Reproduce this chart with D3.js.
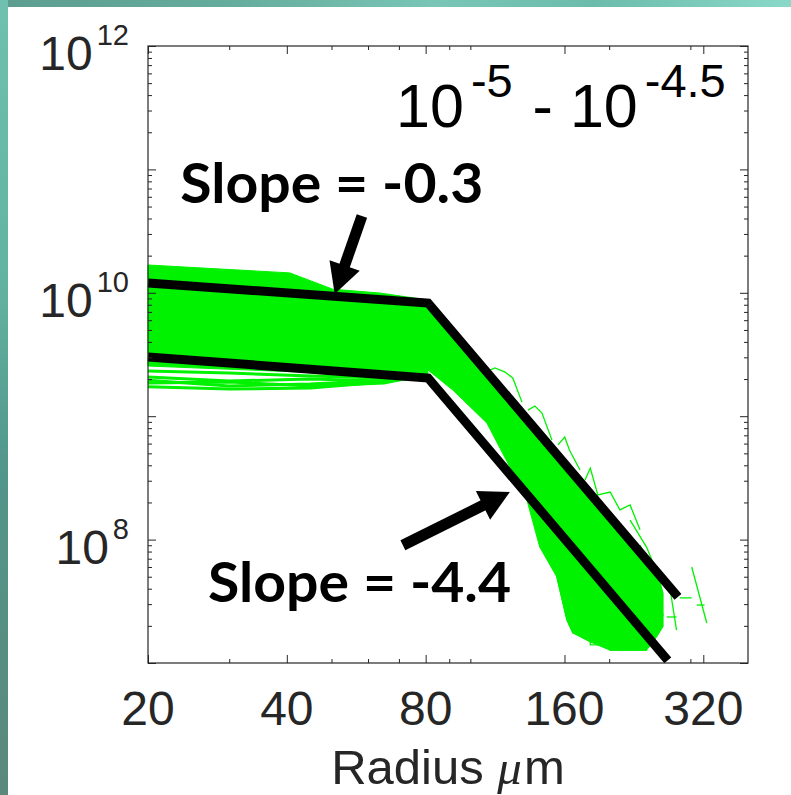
<!DOCTYPE html>
<html lang="en">
<head>
    <meta charset="UTF-8">
    <title>Radius spectrum</title>
    <script src="https://d3js.org/d3.v7.min.js"></script>
    <style>
        body { margin: 0; background: #fff; }
        svg { display: block; }
        .tick-label { font-family: "Liberation Sans", Arial, sans-serif; fill: #262626; }
        .callout { font-family: Lato, "Open Sans", sans-serif; font-weight: 700; fill: #000; }
    </style>
</head>
<body>
<div id="chart"></div>
<script>
    // axis ticks
    const xTicks = [20, 40, 80, 160, 320];
    const yLabelValues = [1e8, 1e10, 1e12];
    const yLabelExps = ["8", "10", "12"];

    // green bundle: outer envelope of the many runs (radius um, value)
    const bandTop = [[20, 1.68e10], [40.6, 1.45e10], [50.3, 1.07e10], [63.7, 9.95e9], [80.9, 8.75e9],
        [99.7, 3.31e9], [123.6, 1.28e9], [141.4, 7.04e8], [160.2, 4.1e8], [179.8, 2.48e8],
        [201, 1.52e8], [222, 9.75e7], [241, 6.71e7], [253.6, 5.46e7],
        [261.4, 3.7e7], [261.4, 1.96e7], [253.6, 1.63e7]];
    const bandBottom = [[20, 2.55e9], [42.7, 2.28e9], [70.3, 1.96e9], [80.9, 2.37e9], [91.6, 1.63e9],
        [108.6, 8.8e8], [121.8, 3.87e8], [132.6, 2.1e8], [141.4, 8.7e7], [154, 4.98e7],
        [161.9, 2.23e7], [166.8, 1.75e7], [182, 1.48e7], [201, 1.27e7], [222, 1.27e7],
        [241, 1.27e7], [253.6, 1.63e7]];

    // single runs leaving the bundle below the shallow part
    const streakRadii = [20, 30, 45, 65, 81];
    const streaks = [
        [2.32e9, 2.24e9, 2.12e9, 2.04e9, 2.28e9],
        [2.08e9, 1.93e9, 2.0e9, 1.93e9, 2.24e9],
        [1.86e9, 1.89e9, 1.76e9, 1.86e9, 2.2e9],
        [1.73e9, 1.66e9, 1.69e9, 1.89e9, 2.16e9],
        [1.96e9, 1.76e9, 1.82e9, 1.96e9, 2.32e9]
    ];
    // single runs above the steep fit and in the tail
    const fringeRuns = [
        [[107.6, 2.28e9], [113.1, 2.46e9], [118.9, 2.28e9], [123.6, 2.04e9], [129.4, 1.3e9]],
        [[133.3, 1.12e9], [138, 1.21e9], [143, 1.06e9], [150.3, 6.4e8]],
        [[154.9, 5.85e8], [160.2, 6.78e8], [164, 5.32e8], [172.9, 3.66e8]],
        [[177.3, 3.04e8], [182, 3.8e8], [189, 2.3e8], [201, 2.43e8], [211, 1.74e8], [222, 1.91e8], [233.3, 1.2e8]],
        [[222, 1.44e8], [241, 8.7e7], [247.6, 6.84e7], [253.6, 5.68e7], [261.4, 3.69e7], [261.4, 1.96e7]],
        [[233.3, 9.04e7], [245.2, 5.17e7], [257, 5.36e7], [251.4, 2.95e7]],
        [[154, 4.98e7], [162, 2.23e7], [167, 1.75e7], [182, 1.75e7], [182, 1.4e7], [201, 1.4e7],
         [201, 1.27e7], [241, 1.27e7], [241, 1.5e7], [254, 1.75e7], [262, 2.5e7]],
        [[302, 6.0e7], [325.6, 2.11e7]],
        [[309.6, 2.95e7], [322, 2.95e7]],
        [[270.6, 4.13e7], [280, 1.85e7]],
        [[284.5, 3.37e7], [302, 3.37e7]],
        [[266.6, 2.36e7], [280, 2.36e7]]
    ];

    // broken power-law fits
    const upperFit = [[20, 1.2e10], [81, 8.26e9], [282, 3.43e7]];
    const lowerFit = [[20, 3.02e9], [81, 2.04e9], [268, 1.05e7]];

    // annotations
    const calloutText = ["Slope = -0.3", "Slope = -4.4"];
    const calloutPos = [[23.5, 5.35e10], [27, 3.12e7]];
    const arrowTails = [[58.2, 4.19e10], [71.4, 9.0e7]];
    const arrowTips = [[50.8, 9.8e9], [121.8, 2.43e8]];
    const rangeLabelPos = [69, 2.21e11];

    const width = 791, height = 795;
    const margin = {left: 148, right: 43, top: 46, bottom: 132};
    const green = "#00f200";
    const axisColor = "#262626";

    const x = d3.scaleLog().domain([20, 400]).range([margin.left, width - margin.right]);
    const y = d3.scaleLog().domain([1e7, 1e12]).range([height - margin.bottom, margin.top]);

    const svg = d3.select("#chart").append("svg")
        .attr("width", width)
        .attr("height", height);

    // slide background strips
    const defs = svg.append("defs");
    const topGrad = defs.append("linearGradient").attr("id", "top-strip");
    [["0%", "#5c9d8f"], ["30%", "#66ad9d"], ["55%", "#79c6b6"], ["75%", "#6cbcab"], ["100%", "#8ad8c7"]]
        .forEach(s => topGrad.append("stop").attr("offset", s[0]).attr("stop-color", s[1]));
    const leftGrad = defs.append("linearGradient").attr("id", "left-strip")
        .attr("x1", 0).attr("y1", 0).attr("x2", 0).attr("y2", 1);
    [["0%", "#70c0b0"], ["35%", "#63b3a2"], ["60%", "#52958a"], ["100%", "#5b887c"]]
        .forEach(s => leftGrad.append("stop").attr("offset", s[0]).attr("stop-color", s[1]));

    svg.append("rect").attr("width", width).attr("height", height).attr("fill", "#fff");
    svg.append("rect").attr("width", width).attr("height", 7).attr("fill", "url(#top-strip)");
    svg.append("rect").attr("width", 8).attr("height", height).attr("fill", "url(#left-strip)");

    const line = d3.line().x(d => x(d[0])).y(d => y(d[1]));

    // bundle of runs
    svg.append("path")
        .attr("d", line(bandTop.concat(bandBottom.slice().reverse())) + "Z")
        .attr("fill", green)
        .attr("stroke", green)
        .attr("stroke-width", 1);

    svg.append("g")
        .selectAll("path")
        .data(streaks.map(s => s.map((v, i) => [streakRadii[i], v])))
        .join("path")
        .attr("d", line)
        .attr("fill", "none")
        .attr("stroke", green)
        .attr("stroke-width", 3);

    svg.append("g")
        .selectAll("path")
        .data(fringeRuns)
        .join("path")
        .attr("d", line)
        .attr("fill", "none")
        .attr("stroke", green)
        .attr("stroke-width", 1.3);

    // fits
    svg.append("g")
        .selectAll("path")
        .data([upperFit, lowerFit])
        .join("path")
        .attr("d", line)
        .attr("fill", "none")
        .attr("stroke", "#000")
        .attr("stroke-width", 9)
        .attr("stroke-linejoin", "miter");

    // frame and ticks (all pointing inward)
    const isDecade = v => Math.abs(Math.log10(v) - Math.round(Math.log10(v))) < 1e-6;
    const xMinor = x.ticks().filter(v => !xTicks.includes(v) && v > 20 && v < 400);
    const yMajor = y.ticks().filter(isDecade);
    const yMinor = y.ticks().filter(v => !isDecade(v));
    const bottomY = height - margin.bottom, rightX = width - margin.right;

    function ticks(axisFn, scale, values, size, transform) {
        svg.append("g")
            .attr("transform", transform)
            .call(axisFn(scale).tickValues(values).tickSize(size).tickSizeOuter(0).tickFormat(""))
            .call(g => g.select(".domain").remove())
            .selectAll("line")
            .attr("stroke", axisColor);
    }
    ticks(d3.axisBottom, x, xTicks, -8, `translate(0,${bottomY})`);
    ticks(d3.axisBottom, x, xMinor, -4, `translate(0,${bottomY})`);
    ticks(d3.axisTop, x, xTicks, -8, `translate(0,${margin.top})`);
    ticks(d3.axisTop, x, xMinor, -4, `translate(0,${margin.top})`);
    ticks(d3.axisLeft, y, yMajor, -8, `translate(${margin.left},0)`);
    ticks(d3.axisLeft, y, yMinor, -4, `translate(${margin.left},0)`);
    ticks(d3.axisRight, y, yMajor, -8, `translate(${rightX},0)`);
    ticks(d3.axisRight, y, yMinor, -4, `translate(${rightX},0)`);

    svg.append("rect")
        .attr("x", margin.left).attr("y", margin.top)
        .attr("width", rightX - margin.left).attr("height", bottomY - margin.top)
        .attr("fill", "none")
        .attr("stroke", axisColor)
        .attr("stroke-width", 1.2);

    // tick labels
    svg.append("g")
        .selectAll("text")
        .data(xTicks)
        .join("text")
        .attr("class", "tick-label")
        .attr("x", d => x(d))
        .attr("y", bottomY + 62)
        .attr("text-anchor", "middle")
        .attr("font-size", 48)
        .text(d => d);

    yLabelValues.forEach((v, i) => {
        const t = svg.append("text")
            .attr("class", "tick-label")
            .attr("x", margin.left - 19)
            .attr("y", y(v) + 24)
            .attr("text-anchor", "end")
            .attr("font-size", 48);
        t.append("tspan").text("10");
        t.append("tspan").attr("dx", 4).attr("dy", -25).attr("font-size", 29).text(yLabelExps[i]);
    });

    // x axis title
    const xTitle = svg.append("text")
        .attr("class", "tick-label")
        .attr("x", (margin.left + rightX) / 2)
        .attr("y", 784)
        .attr("text-anchor", "middle")
        .attr("font-size", 49);
    xTitle.append("tspan").text("Radius ");
    xTitle.append("tspan").attr("font-family", "Liberation Serif, serif").attr("font-style", "italic").text("\u03bc");
    xTitle.append("tspan").attr("dx", 2).text("m");

    // range label in the corner
    const rangeLabel = svg.append("text")
        .attr("class", "tick-label")
        .style("fill", "#000")
        .attr("x", x(rangeLabelPos[0]))
        .attr("y", y(rangeLabelPos[1]))
        .attr("font-size", 61);
    rangeLabel.append("tspan").text("10");
    rangeLabel.append("tspan").attr("dx", 7).attr("dy", -30).attr("font-size", 47).text("-5");
    rangeLabel.append("tspan").attr("dx", 3).attr("dy", 30).text(" - 10");
    rangeLabel.append("tspan").attr("dx", 7).attr("dy", -30).attr("font-size", 47).text("-4.5");

    // slope callouts with arrows
    svg.append("g")
        .selectAll("text")
        .data(calloutText)
        .join("text")
        .attr("class", "callout")
        .attr("x", (d, i) => x(calloutPos[i][0]))
        .attr("y", (d, i) => y(calloutPos[i][1]))
        .attr("font-size", 56)
        .attr("textLength", 303)
        .attr("lengthAdjust", "spacingAndGlyphs")
        .text(d => d);

    arrowTails.forEach((tail, i) => {
        const x0 = x(tail[0]), y0 = y(tail[1]);
        const x1 = x(arrowTips[i][0]), y1 = y(arrowTips[i][1]);
        const ang = Math.atan2(y1 - y0, x1 - x0);
        const headLen = 30, headHalf = 16;
        const bx = x1 - headLen * Math.cos(ang), by = y1 - headLen * Math.sin(ang);
        svg.append("line")
            .attr("x1", x0).attr("y1", y0)
            .attr("x2", bx + 2 * Math.cos(ang)).attr("y2", by + 2 * Math.sin(ang))
            .attr("stroke", "#000")
            .attr("stroke-width", 11);
        svg.append("polygon")
            .attr("points", [
                [x1, y1],
                [bx + headHalf * Math.sin(ang), by - headHalf * Math.cos(ang)],
                [bx - headHalf * Math.sin(ang), by + headHalf * Math.cos(ang)]
            ].join(" "))
            .attr("fill", "#000");
    });
</script>
</body>
</html>
